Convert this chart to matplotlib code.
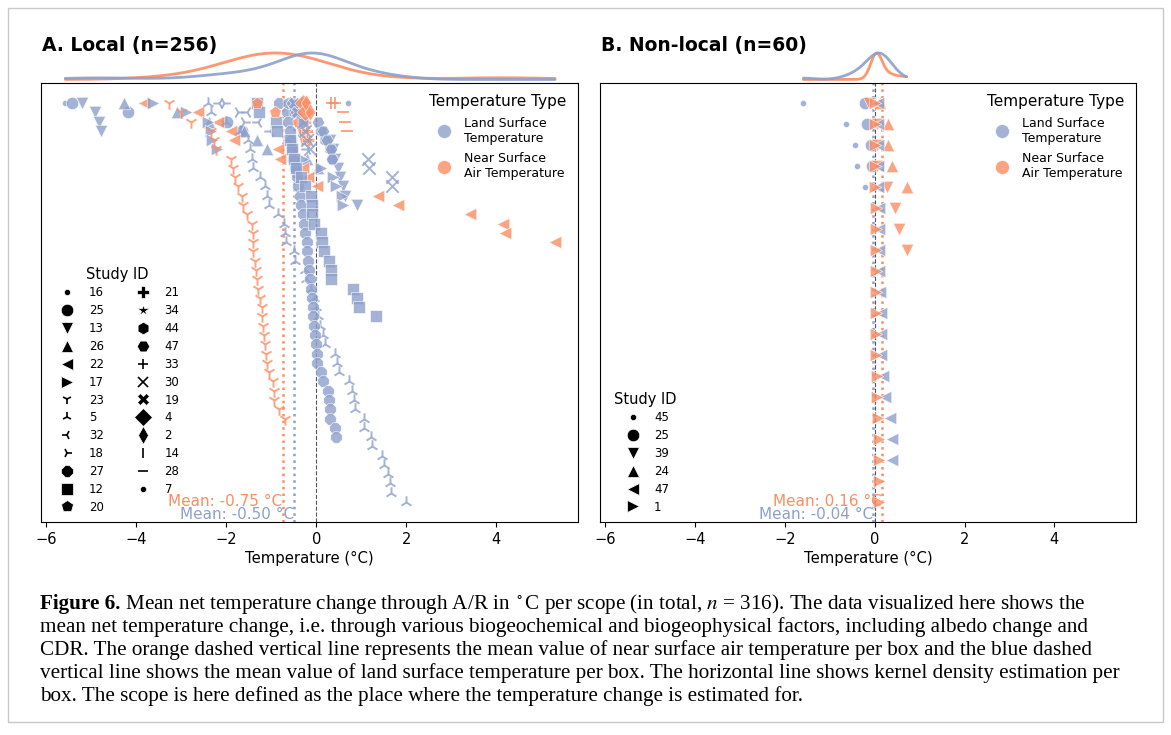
import numpy as np
import matplotlib
matplotlib.use('Agg')
import matplotlib.pyplot as plt
from matplotlib.lines import Line2D
from matplotlib.patches import Rectangle
import matplotlib.transforms as mtransforms

plt.rcParams['mathtext.fontset'] = 'stix'
plt.rcParams['font.family'] = ['DejaVu Sans']
plt.rcParams['axes.unicode_minus'] = True

BLUE = '#8DA0CB'
ORANGE = '#FC8D62'
LST_LABEL = 'Land Surface\nTemperature'
NSAT_LABEL = 'Near Surface\nAir Temperature'

# ---------------- Local panel data (values listed by row index, row 0 at top)
local_ids = [16, 25, 13, 26, 22, 17, 23, 5, 32, 18, 27, 12, 20,
             21, 34, 44, 47, 33, 30, 19, 4, 2, 14, 28, 7]
local_types = ['L', 'L', 'L', 'L', 'N', 'L', 'N', 'L', 'L', 'L', 'L', 'L', 'N',
               'N', 'N', 'L', 'L', 'N', 'L', 'L', 'N', 'N', 'N', 'N', 'L']
local_s16 = [-5.58]
local_s25 = [-5.43, -4.18, -1.98, -1.64]
local_s13 = [-5.21, -4.93, -4.82, -4.78, 0.30, 0.38, 0.42, 0.49, 0.53, 0.60, 0.64, 0.91]
local_s26 = [-4.27, -3.10, -2.38, -1.60, -1.31, -1.09, -0.20, 0.05]
local_s22 = [-3.84, -2.63, -2.19, -1.90, -1.83, -0.84, -0.80, -0.30, -0.19, 0.02,
             1.38, 1.81, 3.42, 4.15, 4.20, 5.31]
local_s17 = [-3.64, -2.90, -2.40, -2.35, -2.31, -2.20, -0.30, 0.10, 0.38, 0.45, 0.58, 0.60]
local_s23 = [-3.27, -3.00, -2.78, -2.33, -2.27, -2.22, -1.89, -1.85, -1.80, -1.73,
             -1.64, -1.62, -1.53, -1.42, -1.40, -1.40, -1.40, -1.36, -1.33, -1.31,
             -1.29, -1.24, -1.20, -1.20, -1.18, -1.16, -1.13, -1.11, -1.09, -1.04,
             -0.97, -0.94, -0.94, -0.82, -0.70]
local_s5 = [-2.40, -2.35, -2.00, -1.70, -1.52, -1.47, -1.42, -1.40, -1.25, -1.13,
            -1.09, -1.04, -0.84, -0.72, -0.69, -0.68, -0.50, -0.47, -0.24, -0.22,
            -0.12, -0.06, 0.00, 0.04, 0.09, 0.16, 0.20, 0.42, 0.47, 0.51,
            0.73, 0.79, 0.84, 0.87, 1.06, 1.07, 1.22, 1.24, 1.46, 1.50,
            1.60, 1.63, 1.67, 1.99]
local_s32 = [-2.16, -1.53, -1.30, -1.02, -0.60, -0.20]
local_s18 = [-2.05, -1.75, -1.60, -0.35, -0.28]
local_s27 = [-0.82, -0.66, -0.62, -0.58, -0.56, -0.53, -0.51, -0.47, -0.42, -0.40,
             -0.36, -0.33, -0.29, -0.27, -0.24, -0.20, -0.20, -0.18, -0.16, -0.13,
             -0.11, -0.09, -0.07, -0.07, -0.04, -0.02, 0.00, 0.02, 0.02, 0.10,
             0.14, 0.26, 0.29, 0.31, 0.31, 0.41, 0.45]
local_s12 = [-1.31, -1.27, -0.89, -0.87, -0.58, -0.53, -0.50, -0.45, -0.35, -0.25,
             -0.12, -0.09, -0.09, -0.04, 0.10, 0.13, 0.18, 0.29, 0.33, 0.33,
             0.82, 0.91, 0.94, 1.33]
local_s20 = [-1.31, -0.91, -0.40, -0.30, -0.25]
local_s21 = [-0.35, -0.30, -0.25, -0.20, -0.18]
local_s34 = [-0.38, -0.33, -0.28, -0.22, -0.16]
local_s44 = [-0.62, -0.50, -0.30, 0.10, 0.20, 0.30, 0.35]
local_s47 = [-0.55, -0.45, 0.05, 0.15, 0.25, 0.32, 0.36]
local_s33 = [0.42]
local_s30 = [-0.45, -0.40, -0.30, -0.25, -0.20, -0.15, 1.16, 1.18, 1.68, 1.68]
local_s19 = [-0.50, -0.42]
local_s4 = [-0.30, -0.25]
local_s2 = [-0.22, -0.15]
local_s14 = [0.33]
local_s28 = [0.36, 0.60, 0.64, 0.68]
local_s7 = [0.71]
local_values = [local_s16, local_s25, local_s13, local_s26, local_s22, local_s17,
                local_s23, local_s5, local_s32, local_s18, local_s27, local_s12,
                local_s20, local_s21, local_s34, local_s44, local_s47, local_s33,
                local_s30, local_s19, local_s4, local_s2, local_s14, local_s28, local_s7]
local_mean_lst = -0.50
local_mean_nsat = -0.75

# ---------------- Non-local panel data
nl_ids = [45, 25, 39, 24, 47, 1]
nl_types = ['L', 'L', 'N', 'N', 'L', 'N']
nl_s45 = [-1.59, -0.64, -0.44, -0.39, -0.22]
nl_s25 = [-0.21, -0.18, -0.09, -0.05]
nl_s39 = [-0.12, 0.04, 0.05, 0.06, 0.27, 0.46, 0.53, 0.71]
nl_s24 = [0.12, 0.29, 0.29, 0.38, 0.71]
nl_s47 = [0.07, 0.07, 0.07, 0.08, 0.08, 0.09, 0.09, 0.10, 0.10, 0.11,
          0.15, 0.15, 0.15, 0.19, 0.23, 0.33, 0.38, 0.38]
nl_s1 = [0.00, 0.00, 0.01, 0.01, 0.01, 0.02, 0.02, 0.02, 0.03, 0.03,
         0.03, 0.03, 0.03, 0.04, 0.05, 0.07, 0.09, 0.09, 0.09, 0.10]
nl_values = [nl_s45, nl_s25, nl_s39, nl_s24, nl_s47, nl_s1]
nl_mean_lst = -0.04
nl_mean_nsat = 0.16

local_markers = ['.', 'o', 'v', '^', '<', '>', '1', '2', '3', '4', '8', 's', 'p',
                 'P', '*', 'h', 'H', '+', 'x', 'X', 'D', 'd', '|', '_', '.']
nl_markers = ['.', 'o', 'v', '^', '<', '>']
UNFILLED = {'1', '2', '3', '4', '+', 'x', '|', '_'}

W, H = 1171, 735
fig = plt.figure(figsize=(W / 100, H / 100), dpi=100)


def fx(px):
    return px / W


def fy(py):
    return 1 - py / H


def kde(vals, grid, adjust=1.0):
    v = np.asarray(vals, float)
    bw = v.std(ddof=1) * len(v) ** (-0.2) * adjust
    d = np.exp(-0.5 * ((grid[:, None] - v[None, :]) / bw) ** 2).sum(axis=1)
    return d / d.max()


def panel(x0, x1, ids, types, values, markers, mean_l, mean_n, title, ncol, leg_dx):
    ax = fig.add_axes([fx(x0), fy(522), fx(x1 - x0), (522 - 83) / H])
    for sid, t, vals, m in zip(ids, types, values, markers):
        col = BLUE if t == 'L' else ORANGE
        y = np.arange(len(vals))
        if m in UNFILLED:
            ax.scatter(vals, y, marker=m, s=80, color=col, alpha=0.8,
                       linewidths=1.4, zorder=3)
        else:
            ax.scatter(vals, y, marker=m, s=80, color=col, alpha=0.8,
                       edgecolors='white', linewidths=0.5, zorder=3)
    nmax = max(len(v) for v in values) - 1
    ax.set_ylim(nmax * 1.05, -nmax * 0.05)
    ax.set_xlim(-6.12, 5.82)
    ax.set_yticks([])
    ax.set_xticks([-6, -4, -2, 0, 2, 4])
    ax.tick_params(axis='x', labelsize=10.5)
    ax.set_xlabel('Temperature (°C)', fontsize=10.7, labelpad=3)
    ax.axvline(0, color='#555555', ls='--', lw=0.8, zorder=1)
    ax.axvline(mean_n, color=ORANGE, ls=':', lw=1.8, zorder=2)
    ax.axvline(mean_l, color=BLUE, ls=':', lw=1.8, zorder=2)
    tr = mtransforms.blended_transform_factory(ax.transData, ax.transAxes)
    ax.text(mean_n, 0.046, f'Mean: {mean_n:.2f} °C', transform=tr, ha='right',
            va='center', color=ORANGE, fontsize=11)
    ax.text(mean_l, 0.016, f'Mean: {mean_l:.2f} °C', transform=tr, ha='right',
            va='center', color=BLUE, fontsize=11)
    # legends
    h_type = [Line2D([], [], marker='o', ls='', color=BLUE, alpha=0.8, markersize=10,
                     markeredgecolor='white', markeredgewidth=0.5),
              Line2D([], [], marker='o', ls='', color=ORANGE, alpha=0.8, markersize=10,
                     markeredgecolor='white', markeredgewidth=0.5)]
    leg1 = ax.legend(h_type, [LST_LABEL, NSAT_LABEL], title='Temperature Type',
                     loc='upper right', frameon=False, fontsize=9, title_fontsize=11,
                     handletextpad=0.6, labelspacing=0.6,
                     bbox_to_anchor=(1.0, 1.0))
    ax.add_artist(leg1)
    h_id = []
    for m in markers:
        if m in UNFILLED:
            h_id.append(Line2D([], [], marker=m, ls='', color='black', markersize=7,
                               markeredgewidth=1.2))
        else:
            h_id.append(Line2D([], [], marker=m, ls='', color='black', markersize=9,
                               markeredgecolor='white', markeredgewidth=0.5))
    ax.legend(h_id, [str(i) for i in ids], title='Study ID', loc='lower left',
              frameon=False, fontsize=8.5, title_fontsize=10.5, ncol=ncol,
              labelspacing=0.41, columnspacing=2.35, handletextpad=0.8,
              bbox_to_anchor=(leg_dx, -0.005))
    # KDE strip
    axk = fig.add_axes([fx(x0), fy(79.5), fx(x1 - x0), 26.5 / H], sharex=ax)
    allv = np.concatenate([np.asarray(v, float) for v in values])
    grid = np.linspace(allv.min(), allv.max(), 400)
    for t, col in (('N', ORANGE), ('L', BLUE)):
        vv = np.concatenate([np.asarray(v, float) for v, tt in zip(values, types) if tt == t])
        axk.plot(grid, kde(vv, grid, 1.2), color=col, lw=2, alpha=0.9,
                 solid_capstyle='round', clip_on=False)
    axk.set_ylim(0, 1)
    axk.axis('off')
    fig.text(fx(x0 + 1), fy(45), title, fontsize=13.5, fontweight='bold', va='center', ha='left')
    return ax


panel(41, 578, local_ids, local_types, local_values, local_markers,
      local_mean_lst, local_mean_nsat, 'A. Local (n=256)', 2, 0.0075)
panel(600, 1136, nl_ids, nl_types, nl_values, nl_markers,
      nl_mean_lst, nl_mean_nsat, 'B. Non-local (n=60)', 1, 0.0056)

# caption
cap_lines = [
    ' Mean net temperature change through A/R in $^\\circ$C per scope (in total, $n$ = 316). The data visualized here shows the',
    'mean net temperature change, i.e. through various biogeochemical and biogeophysical factors, including albedo change and',
    'CDR. The orange dashed vertical line represents the mean value of near surface air temperature per box and the blue dashed',
    'vertical line shows the mean value of land surface temperature per box. The horizontal line shows kernel density estimation per',
    'box. The scope is here defined as the place where the temperature change is estimated for.',
]
cap_y = [604, 627, 650, 673, 696]
serif = 'Liberation Serif'
renderer = fig.canvas.get_renderer()
probe = fig.text(0, 0, cap_lines[3], fontsize=13, family=serif)
wpx = probe.get_window_extent(renderer).width
probe.remove()
fs = 13 * (1114 - 40) / wpx
t0 = fig.text(fx(40), fy(cap_y[0]), 'Figure 6.', fontsize=fs, family=serif,
              fontweight='bold', va='center')
bb = t0.get_window_extent(renderer)
fig.text(bb.x1 / W, fy(cap_y[0]), cap_lines[0], fontsize=fs, family=serif, va='center')
for line, yy in zip(cap_lines[1:], cap_y[1:]):
    fig.text(fx(40), fy(yy), line, fontsize=fs, family=serif, va='center')

fig.patches.append(Rectangle((fx(8), fy(722)), fx(1155), 714 / H, transform=fig.transFigure,
                             fill=False, edgecolor='#c8c8c8', lw=1))

fig.savefig('out.png', dpi=100)
